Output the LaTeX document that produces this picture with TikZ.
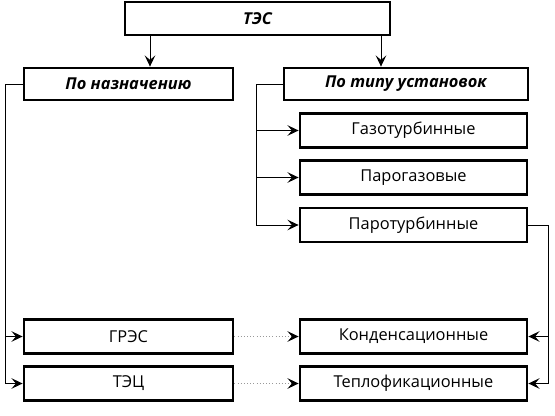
\documentclass[tikz,border=0pt]{standalone}
\usepackage{fontspec}
\setmainfont{Open Sans}
\usetikzlibrary{arrows.meta}

\begin{document}
\begin{tikzpicture}[x=0.03cm, y=-0.03cm,
      box/.style={rectangle, draw=black, line width=2.4pt, fill=white,
                  minimum width=6.81cm, minimum height=1.02cm,
                  font=\fontsize{14}{16}\selectfont},
      hbox/.style={box, font=\fontsize{14}{16}\selectfont\bfseries\itshape},
      arr/.style={line width=0.85pt, -{Stealth[length=9.5pt, width=9pt, inset=3.8pt]}},
      dotarr/.style={line width=0.7pt, black!40, dotted,
                     -{Stealth[black, length=9.5pt, width=9pt, inset=3.8pt]}}
    ]
    \useasboundingbox (0,0) rectangle (555,415);

    % Top level
    \node[hbox, minimum width=7.95cm, minimum height=0.99cm] (tes) at (257.5, 18.5) {ТЭС};
    \node[hbox, minimum width=6.27cm, minimum height=0.96cm] (naznach) at (128.5, 84) {По назначению};
    \node[hbox, minimum width=7.32cm, minimum height=0.96cm] (tip) at (406, 84) {По типу установок};

    % By type of installations
    \node[box] (gasturb)  at (413.5, 130.5) {Газотурбинные};
    \node[box] (parogaz)  at (413.5, 177.5) {Парогазовые};
    \node[box] (paroturb) at (413.5, 225)   {Паротурбинные};

    % By purpose
    \node[box, minimum width=6.27cm] (gres) at (128.5, 336.5) {ГРЭС};
    \node[box, minimum width=6.27cm] (tec)  at (128.5, 383.5) {ТЭЦ};
    \node[box] (kond)  at (413.5, 336.5) {Конденсационные};
    \node[box] (teplo) at (413.5, 383.5) {Теплофикационные};

    % Bus lines
    \coordinate (lbus) at (5, 0);
    \coordinate (mbus) at (256, 0);
    \coordinate (rbus) at (548, 0);

    % Connectors
    \draw[arr] (150,0 |- tes.south) -- (150,0 |- naznach.north);
    \draw[arr] (381,0 |- tes.south) -- (381,0 |- tip.north);

    \draw[arr] (naznach.west) -- (naznach.west -| lbus) |- (tec.west);
    \draw[arr] (gres.west -| lbus) -- (gres.west);

    \draw[arr] (tip.west) -- (tip.west -| mbus) |- (paroturb.west);
    \draw[arr] (gasturb.west -| mbus) -- (gasturb.west);
    \draw[arr] (parogaz.west -| mbus) -- (parogaz.west);

    \draw[arr] (paroturb.east) -- (paroturb.east -| rbus) |- (teplo.east);
    \draw[arr] (kond.east -| rbus) -- (kond.east);

    \draw[dotarr] (gres) -- (kond);
    \draw[dotarr] (tec) -- (teplo);
\end{tikzpicture}
\end{document}
